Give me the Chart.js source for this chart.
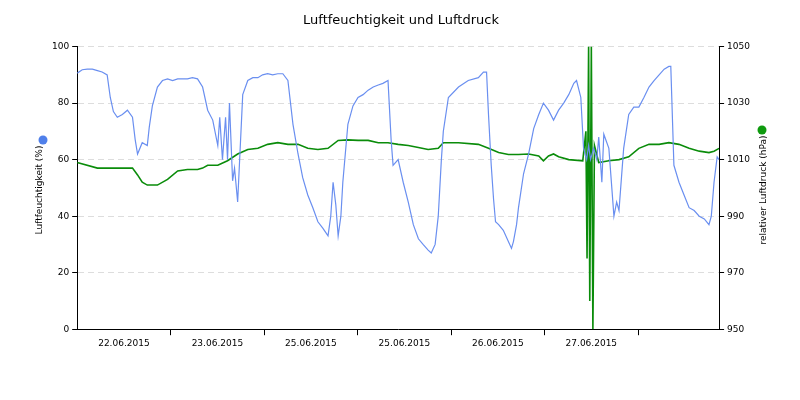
<!DOCTYPE html>
<html>
<head>
<meta charset="utf-8">
<script src="https://cdn.jsdelivr.net/npm/chart.js@4"></script>
<style>
  body { margin: 0; background: #fff; }
  #wrap { width: 800px; height: 400px; }
</style>
</head>
<body>
<div id="wrap"><canvas id="chart"></canvas></div>
<script>
// time in hours since start of record
const humTime = [0,1.3,2.6,3.9,5.2,6.4,7.7,8.5,9.3,10.3,11.6,12.9,14.2,14.9,15.5,16.7,18.0,18.5,19.3,20.6,21.9,23.2,24.5,25.8,27.0,28.3,29.6,30.9,32.2,33.5,34.8,36.1,36.6,37.3,38.1,38.6,39.1,39.9,40.4,41.2,42.5,43.8,45.1,46.4,47.6,48.9,50.2,51.5,52.8,54.1,55.4,56.7,57.9,59.2,60.5,61.8,63.1,64.4,65.1,65.7,66.4,67.0,67.7,68.2,69.5,70.8,72.1,73.4,74.7,76.0,77.3,78.5,79.8,80.6,81.1,82.4,83.7,85.0,86.3,87.6,88.8,90.1,90.9,91.9,92.7,93.5,94.0,95.3,97.9,100.4,103.0,104.3,105.1,105.6,106.3,106.9,107.4,108.2,109.4,110.7,111.5,112.0,112.8,113.3,114.6,115.9,117.2,118.5,119.7,121.0,122.3,123.6,124.9,126.2,127.5,128.2,129.3,130.0,130.8,131.3,131.8,132.6,133.4,133.9,134.7,135.2,136.5,137.8,138.5,139.1,140.3,141.6,142.9,144.2,145.5,146.8,148.1,149.4,150.7,151.9,152.4,153.2,154.5,155.8,157.1,158.4,159.7,161.0,162.2,162.8,163.5,164.3,164.8];
const humidity = [90.6,91.8,92,92,91.5,91,90,82,77,75,76,77.5,75,67,62,66,65,71.4,79,85.7,88,88.6,88,88.6,88.6,88.6,89,88.6,85.7,77.5,74,65,75,60,75,60,80,52.5,57,45,83,88,89,89,90,90.4,90,90.4,90.4,88,72.5,62,53.6,47.5,43,38,35.7,33,40,52,44,33,40,52,72.5,79,82,83,84.6,85.7,86.4,87,88,67,58,60,52,45,37,32,30,28,27,30,40,60,70,82,85.7,88,89,91,91,76,58,46,38,37,35,31,28.6,31,37,43,55,62,71,76,80,77.5,74,77.5,80,83,87,88,82,64,60,65,60,64,60,68,52,69,64,40,45,42,64,76,78.6,78.6,82,85.7,88,90,92,93,93,58,52,47.5,43,42,40,39,37,40,52,61,60];

const presTime = [0,5.2,10.3,14.2,15.5,16.7,18.0,20.6,23.2,25.8,28.3,30.9,32.2,33.5,36.1,38.6,41.2,43.8,46.4,48.9,51.5,54.1,56.7,59.2,61.8,64.4,67.0,69.5,72.1,74.7,77.3,79.8,82.4,85.0,87.6,90.1,92.7,94.0,97.9,103.0,105.6,108.2,110.7,113.3,115.9,118.5,119.7,121.0,122.3,123.6,126.2,129.8,130.6,130.9,131.3,131.6,132.0,132.4,132.8,133.9,136.5,139.1,141.6,144.2,146.8,149.4,151.9,154.5,157.1,159.7,162.2,163.5,164.8];
const pressure = [1009,1007,1007,1007,1004.6,1002,1001,1001,1003,1006,1006.5,1006.5,1007,1008,1008,1009.6,1012,1013.6,1014,1015.4,1016,1015.4,1015.4,1014,1013.6,1014,1016.8,1017,1016.8,1016.8,1016,1016,1015.4,1015,1014.3,1013.6,1014,1016,1016,1015.4,1014,1012.5,1011.8,1011.8,1012,1011.3,1009.6,1011.3,1012,1011,1010,1009.6,1020,975,1050,960,1050,950,1015,1009,1009.6,1010,1011,1014,1015.4,1015.4,1016,1015.4,1014,1013,1012.5,1013,1014];

const dayLabels = ['22.06.2015','23.06.2015','25.06.2015','25.06.2015','26.06.2015','27.06.2015',''];
const humTicks = [0,20,40,60,80,100];
const presTicks = [950,970,990,1010,1030,1050];

const toXY = (t, v) => t.map((x, i) => ({ x: x, y: v[i] }));

// axis titles with coloured dots, both read bottom to top
const axisTitles = {
  id: 'axisTitles',
  afterDraw(chart) {
    const c = chart.ctx;
    c.save();
    c.font = '9px "DejaVu Sans"';
    c.fillStyle = '#000';
    c.textAlign = 'center';
    c.textBaseline = 'middle';
    c.translate(40, 190); c.rotate(-Math.PI / 2);
    c.fillText('Luftfeuchtigkeit (%)', 0, 0);
    c.setTransform(1, 0, 0, 1, 0, 0);
    c.scale(chart.currentDevicePixelRatio, chart.currentDevicePixelRatio);
    c.translate(764, 190); c.rotate(-Math.PI / 2);
    c.fillText('relativer Luftdruck (hPa)', 0, 0);
    c.setTransform(1, 0, 0, 1, 0, 0);
    c.scale(chart.currentDevicePixelRatio, chart.currentDevicePixelRatio);
    c.fillStyle = '#4f7fea';
    c.beginPath(); c.arc(43, 140, 4.5, 0, Math.PI * 2); c.fill();
    c.fillStyle = '#0e9a0e';
    c.beginPath(); c.arc(762, 130, 4.5, 0, Math.PI * 2); c.fill();
    c.restore();
  }
};

new Chart(document.getElementById('chart'), {
  type: 'line',
  data: {
    datasets: [{
      label: 'Luftfeuchtigkeit',
      data: toXY(humTime, humidity),
      borderColor: '#6a8ff0',
      borderWidth: 1.2,
      pointRadius: 0,
      tension: 0,
      yAxisID: 'y'
    }, {
      label: 'Luftdruck',
      data: toXY(presTime, pressure),
      borderColor: '#0a8c0a',
      borderWidth: 1.6,
      pointRadius: 0,
      tension: 0,
      yAxisID: 'y2'
    }]
  },
  options: {
    animation: false,
    responsive: true,
    maintainAspectRatio: false,
    layout: { padding: { left: 49, right: 47, top: 9, bottom: 48 } },
    plugins: {
      legend: { display: false },
      tooltip: { enabled: false },
      title: {
        display: true,
        text: 'Luftfeuchtigkeit und Luftdruck',
        color: '#000',
        font: { family: 'DejaVu Sans', size: 13, weight: 'normal' },
        padding: { top: 4, bottom: 18 }
      }
    },
    scales: {
      x: {
        type: 'linear',
        min: 0,
        max: 164.8,
        afterBuildTicks: s => { s.ticks = [12,24,36,48,60,72,84,96,108,120,132,144,156].map(v => ({ value: v })); },
        ticks: {
          autoSkip: false, maxRotation: 0, color: '#000',
          font: { family: 'DejaVu Sans', size: 9 },
          callback: v => (v % 24 === 12 ? dayLabels[(v - 12) / 24] : '')
        },
        grid: {
          drawOnChartArea: false,
          tickLength: 6,
          tickColor: c => (c.tick && c.tick.value % 24 === 0 ? '#000' : 'rgba(0,0,0,0)')
        },
        border: { color: '#000' }
      },
      y: {
        position: 'left',
        min: 0, max: 100,
        afterBuildTicks: s => { s.ticks = humTicks.map(v => ({ value: v })); },
        ticks: { color: '#000', font: { family: 'DejaVu Sans', size: 9 } },
        grid: { color: '#dddddd', tickColor: '#000', tickLength: 5 },
        border: { color: '#000', dash: [6, 4] }
      },
      y2: {
        position: 'right',
        min: 950, max: 1050,
        afterBuildTicks: s => { s.ticks = presTicks.map(v => ({ value: v })); },
        ticks: { color: '#000', font: { family: 'DejaVu Sans', size: 9 }, callback: v => String(v) },
        grid: { drawOnChartArea: false, tickColor: '#000', tickLength: 5 },
        border: { color: '#000' }
      }
    }
  },
  plugins: [axisTitles]
});
</script>
</body>
</html>
